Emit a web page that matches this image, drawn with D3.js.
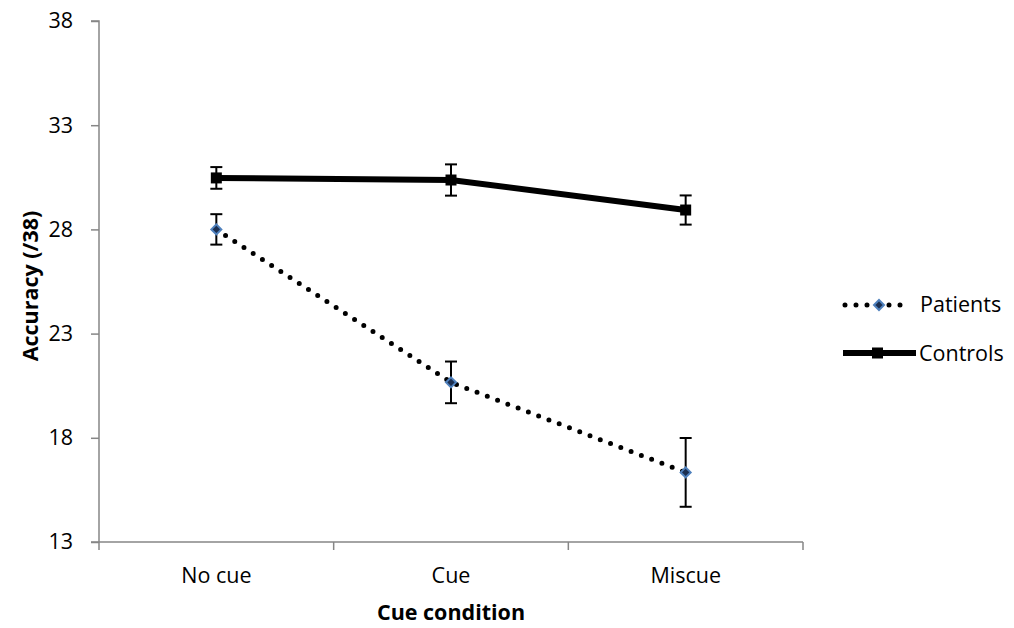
<!DOCTYPE html>
<html><head><meta charset="utf-8">
<script src="https://cdn.jsdelivr.net/npm/d3@7"></script>
<style>body{margin:0;background:#fff}svg{display:block}text{font-family:"Open Sans",Lato,sans-serif;fill:#000}</style>
</head><body><svg id="c" width="1014" height="628"></svg>
<script>
const categories = ["No cue", "Cue", "Miscue"];
const patients = [28.0, 20.66, 16.34];
const patientsErr = [0.73, 1.0, 1.65];
const controls = [30.47, 30.37, 28.93];
const controlsErr = [0.52, 0.75, 0.7];
const yTicks = [13, 18, 23, 28, 33, 38];

const FONT = "'Open Sans',Lato,sans-serif";
const FS = 21.5;
const svg = d3.select("#c");
const L = 99, R = 803, T = 21, B = 542;
const x = d3.scaleBand().domain(categories).range([L, R]);
const y = d3.scaleLinear().domain([13, 38]).range([B, T]);
const axisColor = "#868686";

// y axis
const ya = svg.append("g").attr("transform", `translate(${L},0)`)
  .call(d3.axisLeft(y).tickValues(yTicks).tickSize(8).tickPadding(18).tickFormat(d3.format("d")));
ya.select(".domain").attr("stroke", axisColor).attr("stroke-width", 1.5).attr("d", `M-8,${T}H0V${B}`);
ya.selectAll(".tick line").attr("stroke", axisColor).attr("stroke-width", 1.5);
ya.selectAll(".tick text").attr("font-size", FS).style("font-family", FONT).attr("fill", "#000");

// x axis
const xa = svg.append("g").attr("transform", `translate(0,${B})`)
  .call(d3.axisBottom(x).tickSize(0).tickPadding(26));
xa.select(".domain").attr("stroke", axisColor).attr("stroke-width", 1.5).attr("d", `M${L-8},0H${R}`);
xa.selectAll(".tick text").attr("font-size", FS).style("font-family", FONT).attr("fill", "#000");
const bounds = [L, ...categories.map(c => x(c) + x.bandwidth())];
xa.selectAll(".xt").data(bounds).enter().append("line")
  .attr("x1", d => d).attr("x2", d => d).attr("y1", 0).attr("y2", 8)
  .attr("stroke", axisColor).attr("stroke-width", 1.5);

const cx = c => x(c) + x.bandwidth() / 2;

// error bars
function errBars(vals, errs) {
  const g = svg.append("g").attr("stroke", "#000").attr("stroke-width", 2);
  categories.forEach((c, i) => {
    const X = cx(c);
    g.append("line").attr("x1", X).attr("x2", X).attr("y1", y(vals[i] + errs[i])).attr("y2", y(vals[i] - errs[i]));
    [vals[i] + errs[i], vals[i] - errs[i]].forEach(v => g.append("line").attr("x1", X - 6).attr("x2", X + 6).attr("y1", y(v)).attr("y2", y(v)));
  });
}
errBars(controls, controlsErr);
errBars(patients, patientsErr);

const line = d3.line().x((d, i) => cx(categories[i])).y(d => y(d));
// controls line
svg.append("path").datum(controls).attr("d", line).attr("fill", "none").attr("stroke", "#000").attr("stroke-width", 6);
svg.selectAll(".cm").data(controls).enter().append("rect")
  .attr("x", (d, i) => cx(categories[i]) - 5.5).attr("y", d => y(d) - 5.5).attr("width", 11).attr("height", 11).attr("fill", "#000");
// patients line
svg.append("path").datum(patients).attr("d", line).attr("fill", "none").attr("stroke", "#000")
  .attr("stroke-width", 5).attr("stroke-dasharray", "0 11").attr("stroke-linecap", "round");
function diamond(g, X, Y) {
  g.append("path").attr("d", `M${X},${Y-5}L${X+5},${Y}L${X},${Y+5}L${X-5},${Y}Z`)
    .attr("fill", "#1c2f50").attr("stroke", "#4f81bd").attr("stroke-width", 2);
}
patients.forEach((d, i) => diamond(svg, cx(categories[i]), y(d)));

// legend
const lg = svg.append("g");
lg.append("line").attr("x1", 845).attr("x2", 910).attr("y1", 305).attr("y2", 305)
  .attr("stroke", "#000").attr("stroke-width", 5).attr("stroke-dasharray", "0 11").attr("stroke-linecap", "round");
diamond(lg, 879, 305);
lg.append("text").attr("x", 920).attr("y", 312).attr("font-size", FS).text("Patients");
lg.append("line").attr("x1", 843).attr("x2", 916).attr("y1", 353).attr("y2", 353).attr("stroke", "#000").attr("stroke-width", 6);
lg.append("rect").attr("x", 872).attr("y", 347.5).attr("width", 11).attr("height", 11).attr("fill", "#000");
lg.append("text").attr("x", 919).attr("y", 361).attr("font-size", FS).text("Controls");

// titles
svg.append("text").attr("transform", "translate(38,286) rotate(-90)").attr("text-anchor", "middle")
  .attr("font-size", FS).attr("font-weight", "bold").text("Accuracy (/38)");
svg.append("text").attr("x", cx("Cue")).attr("y", 620).attr("text-anchor", "middle")
  .attr("font-size", FS).attr("font-weight", "bold").text("Cue condition");
</script></body></html>
